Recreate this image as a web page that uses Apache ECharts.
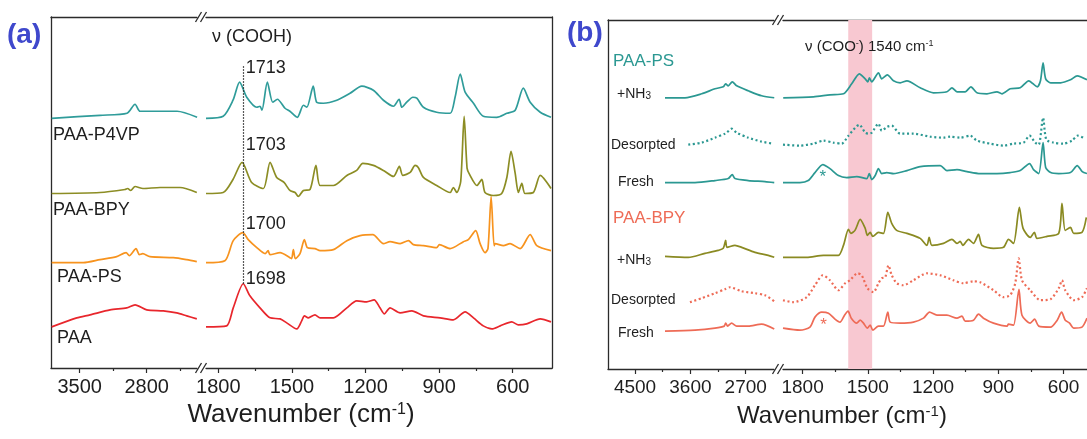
<!DOCTYPE html>
<html>
<head>
<meta charset="utf-8">
<script src="https://cdn.jsdelivr.net/npm/echarts@6/dist/echarts.min.js"></script>
<style>
  html, body { margin: 0; padding: 0; background: #fff; }
  #chart { width: 1087px; height: 439px; }
</style>
</head>
<body>
<div id="chart"></div>
<script>
// ---------- (a) FTIR spectra, stacked with vertical offsets (a.u.) ----------
// Each spectrum is split into a high-wavenumber part and a fingerprint part.
const p4vpHigh = [[3793,2.49],[3288,2.52],[3006,2.54],[2922,2.63],[2870,2.56],[2692,2.56],[2483,2.56],[2274,2.50]];
const p4vpLow = [[1850,2.49],[1780,2.51],[1740,2.67],[1713,2.85],[1684,2.70],[1643,2.60],[1630,2.61],[1622,2.57],[1600,2.85],[1578,2.65],[1559,2.68],[1528,2.59],[1508,2.56],[1478,2.50],[1453,2.62],[1439,2.60],[1413,2.81],[1399,2.65],[1372,2.64],[1317,2.67],[1263,2.74],[1215,2.81],[1168,2.77],[1127,2.67],[1086,2.61],[1063,2.68],[1052,2.60],[1032,2.65],[1007,2.70],[991,2.69],[964,2.60],[910,2.55],[855,2.54],[835,2.70],[814,2.93],[794,2.75],[760,2.64],[720,2.51],[665,2.50],[624,2.54],[590,2.57],[557,2.79],[529,2.65],[488,2.55],[444,2.50]];

const bpyHigh = [[3793,1.74],[3288,1.75],[3027,1.78],[2999,1.79],[2967,1.77],[2922,1.81],[2839,1.79],[2661,1.80],[2452,1.80],[2277,1.75]];
const bpyLow = [[1850,1.74],[1780,1.75],[1740,1.88],[1703,2.05],[1664,1.85],[1616,1.79],[1589,2.05],[1562,1.90],[1532,1.85],[1508,1.77],[1487,1.75],[1474,1.71],[1453,1.77],[1426,1.78],[1402,2.02],[1385,1.82],[1331,1.82],[1276,1.92],[1236,1.97],[1211,2.04],[1168,2.02],[1127,1.97],[1086,1.91],[1062,2.01],[1048,1.92],[1018,1.95],[998,2.02],[985,2.00],[964,1.90],[910,1.82],[855,1.75],[842,1.80],[828,1.75],[812,1.86],[798,2.51],[786,1.99],[776,1.93],[746,1.82],[726,1.88],[713,1.75],[679,1.72],[645,1.74],[624,1.90],[607,2.16],[590,1.94],[577,1.75],[563,1.84],[550,1.74],[516,1.75],[488,1.92],[444,1.79]];

const psHigh = [[3793,1.05],[3462,1.05],[3288,1.08],[3114,1.11],[3016,1.15],[2982,1.12],[2912,1.19],[2877,1.13],[2842,1.14],[2766,1.11],[2522,1.10],[2382,1.08],[2277,1.06]];
const psLow = [[1850,1.05],[1773,1.07],[1739,1.27],[1700,1.35],[1678,1.28],[1643,1.20],[1609,1.14],[1597,1.17],[1589,1.13],[1548,1.15],[1508,1.10],[1501,1.09],[1494,1.18],[1486,1.09],[1467,1.14],[1449,1.28],[1437,1.20],[1406,1.19],[1385,1.17],[1331,1.18],[1276,1.27],[1222,1.32],[1170,1.33],[1127,1.24],[1100,1.26],[1059,1.24],[1025,1.27],[1005,1.23],[964,1.22],[910,1.20],[899,1.23],[855,1.19],[801,1.26],[781,1.28],[751,1.37],[733,1.24],[713,1.15],[701,1.19],[688,1.71],[676,1.22],[672,1.24],[638,1.22],[611,1.24],[570,1.19],[529,1.33],[502,1.22],[444,1.17]];

const paaHigh = [[3793,0.41],[3531,0.50],[3392,0.53],[3183,0.58],[3009,0.60],[2922,0.63],[2800,0.58],[2627,0.57],[2487,0.55],[2382,0.52],[2277,0.49]];
const paaLow = [[1850,0.41],[1766,0.42],[1739,0.60],[1698,0.84],[1671,0.72],[1630,0.60],[1589,0.50],[1548,0.49],[1521,0.45],[1480,0.39],[1460,0.47],[1449,0.52],[1433,0.50],[1406,0.53],[1385,0.50],[1331,0.50],[1276,0.60],[1236,0.67],[1195,0.66],[1165,0.68],[1141,0.60],[1123,0.54],[1100,0.60],[1059,0.55],[1011,0.57],[964,0.52],[896,0.50],[842,0.48],[794,0.56],[760,0.50],[720,0.42],[685,0.39],[651,0.42],[604,0.46],[577,0.43],[543,0.44],[488,0.49],[444,0.46]];

// C=O stretch positions written next to the dotted guide line
const peakLabels = [1713, 1703, 1700, 1698];
const coohGuide = 1698;

// ---------- (b) NH3 exposure series ----------
const psNh3High = [[4013,2.72],[3688,2.72],[3416,2.76],[3200,2.81],[3065,2.83],[3026,2.86],[2984,2.84],[2919,2.88],[2847,2.84],[2659,2.79],[2441,2.74],[2236,2.72]];
const psNh3Low = [[1889,2.72],[1750,2.73],[1674,2.75],[1612,2.76],[1574,2.86],[1539,2.96],[1512,2.91],[1500,2.88],[1493,2.92],[1482,2.88],[1451,2.97],[1436,2.91],[1410,2.95],[1382,2.89],[1351,2.87],[1320,2.89],[1259,2.82],[1198,2.77],[1136,2.78],[1113,2.82],[1090,2.78],[1052,2.78],[1026,2.83],[998,2.77],[952,2.76],[906,2.78],[883,2.76],[845,2.81],[799,2.82],[760,2.89],[721,2.83],[706,2.89],[694,3.07],[682,2.91],[659,2.87],[613,2.87],[568,2.90],[537,2.94],[492,2.90]];

const psDesHigh = [[3634,2.25],[3416,2.27],[3200,2.32],[3038,2.36],[3010,2.37],[2929,2.41],[2847,2.37],[2659,2.32],[2441,2.28],[2252,2.26]];
const psDesLow = [[1890,2.25],[1812,2.24],[1750,2.26],[1704,2.29],[1658,2.27],[1620,2.26],[1589,2.34],[1539,2.45],[1512,2.37],[1497,2.36],[1482,2.37],[1451,2.46],[1436,2.39],[1410,2.43],[1390,2.44],[1351,2.36],[1290,2.36],[1213,2.33],[1152,2.32],[1121,2.33],[1075,2.32],[1029,2.34],[998,2.29],[937,2.26],[876,2.24],[830,2.26],[784,2.27],[756,2.34],[730,2.27],[714,2.25],[694,2.52],[679,2.30],[646,2.27],[600,2.26],[561,2.29],[535,2.34],[500,2.31]];

const psFreshHigh = [[4013,1.87],[3525,1.87],[3200,1.89],[2984,1.91],[2919,1.95],[2875,1.91],[2659,1.89],[2387,1.88],[2236,1.87]];
const psFreshLow = [[1890,1.87],[1812,1.87],[1774,1.89],[1743,1.97],[1707,2.05],[1674,2.01],[1635,1.94],[1597,1.92],[1551,1.93],[1505,1.91],[1493,1.96],[1482,1.90],[1466,1.94],[1451,2.01],[1436,1.96],[1413,1.97],[1382,1.96],[1320,1.99],[1259,2.03],[1167,2.04],[1136,1.99],[1090,2.00],[1044,1.98],[983,1.96],[906,1.96],[845,1.97],[799,1.99],[756,2.06],[738,2.00],[714,1.96],[694,2.27],[682,2.02],[659,1.97],[622,1.96],[568,1.97],[537,2.04],[514,1.98],[492,1.96]];

const bpyNh3High = [[4013,1.13],[3634,1.12],[3363,1.16],[3146,1.19],[3065,1.21],[3026,1.29],[3005,1.22],[2875,1.24],[2766,1.22],[2550,1.17],[2334,1.14],[2236,1.12]];
const bpyNh3Low = [[1890,1.12],[1781,1.12],[1704,1.14],[1635,1.14],[1612,1.24],[1589,1.40],[1578,1.36],[1559,1.39],[1535,1.50],[1512,1.41],[1502,1.34],[1489,1.37],[1477,1.33],[1451,1.37],[1428,1.36],[1408,1.57],[1390,1.46],[1367,1.39],[1320,1.36],[1259,1.31],[1228,1.24],[1218,1.32],[1205,1.24],[1152,1.26],[1113,1.30],[1090,1.26],[1075,1.28],[1063,1.24],[1037,1.30],[1014,1.26],[991,1.35],[975,1.24],[922,1.21],[876,1.22],[853,1.30],[830,1.26],[803,1.62],[786,1.41],[753,1.32],[734,1.37],[722,1.31],[676,1.33],[622,1.36],[607,1.66],[592,1.39],[568,1.42],[553,1.36],[515,1.37],[495,1.52]];

const bpyDesHigh = [[3607,0.67],[3416,0.71],[3200,0.76],[3038,0.80],[2956,0.82],[2766,0.78],[2550,0.76],[2387,0.74],[2236,0.68]];
const bpyDesLow = [[1890,0.69],[1843,0.67],[1781,0.72],[1743,0.84],[1707,0.94],[1674,0.89],[1635,0.79],[1604,0.86],[1582,0.89],[1548,0.96],[1528,0.94],[1502,0.81],[1474,0.77],[1451,0.86],[1436,0.91],[1420,0.92],[1405,1.04],[1390,0.94],[1367,0.86],[1336,0.84],[1290,0.89],[1229,0.96],[1167,0.94],[1106,0.89],[1060,0.86],[1014,0.88],[983,0.87],[922,0.79],[876,0.72],[845,0.74],[822,0.86],[806,1.11],[791,0.89],[753,0.79],[706,0.69],[660,0.70],[622,0.81],[607,0.89],[592,0.79],[553,0.69],[515,0.72],[492,0.81]];

const bpyFreshHigh = [[4013,0.38],[3525,0.39],[3200,0.41],[3049,0.43],[3026,0.46],[2994,0.43],[2929,0.46],[2847,0.43],[2659,0.43],[2441,0.45],[2236,0.40]];
const bpyFreshLow = [[1890,0.41],[1812,0.39],[1766,0.42],[1743,0.52],[1712,0.57],[1681,0.56],[1651,0.50],[1628,0.47],[1607,0.54],[1591,0.58],[1576,0.51],[1551,0.46],[1535,0.49],[1520,0.46],[1502,0.41],[1489,0.44],[1477,0.39],[1451,0.43],[1428,0.43],[1408,0.57],[1397,0.47],[1351,0.46],[1290,0.47],[1244,0.51],[1216,0.57],[1182,0.54],[1136,0.54],[1090,0.51],[1067,0.53],[1052,0.48],[1014,0.49],[991,0.55],[968,0.51],[922,0.46],[860,0.43],[853,0.45],[830,0.44],[805,0.80],[791,0.54],[753,0.46],[733,0.50],[714,0.43],[660,0.42],[629,0.49],[609,0.57],[592,0.49],[572,0.46],[553,0.41],[515,0.42],[492,0.51]];

// carboxylate band highlighted in (b)
const cooBand = [1590, 1480];

// tick values
const ticksAHigh = [3500, 2800], minorAHigh = [3150, 2450];
const ticksBHigh = [4500, 3600, 2700], minorBHigh = [4050, 3150];
const ticksLow = [1800, 1500, 1200, 900, 600], minorLow = [1650, 1350, 1050, 750];

// ---------- layout & style ----------
const FONT = '"Liberation Sans", Arial, Helvetica, sans-serif';
const AX = '#2b2b2b';
const TXT = '#1e1e1e';
const C = {
  teal: '#2f9c9a', olive: '#8c8d24', orange: '#f7931e', red: '#e8262c',
  tealB: '#2b9892', oliveB: '#8a8a22', salmon: '#ee6b56', pink: '#f8c8d1', blue: '#3f48cc'
};

const grids = [
  { left: 51,  top: 17, width: 146, height: 351 },  // (a) high wavenumber
  { left: 206, top: 17, width: 346, height: 351 },  // (a) fingerprint
  { left: 608, top: 20, width: 166, height: 349 },  // (b) high wavenumber
  { left: 783, top: 20, width: 324, height: 349 }   // (b) fingerprint, runs past the right edge
].map(g => Object.assign({ outerBoundsMode: 'none', containLabel: false }, g));
const ranges = [[2275, 3800], [440, 1850], [2240, 4940], [400, 1890]];
const majors = [ticksAHigh, ticksLow, ticksBHigh, ticksLow];
const minors = [minorAHigh, minorLow, minorBHigh, minorLow];
const tickFont = [20, 20, 19, 19];

const xAxis = [], yAxis = [];
grids.forEach((g, gi) => {
  const common = { type: 'value', gridIndex: gi, min: ranges[gi][0], max: ranges[gi][1], inverse: true,
                   splitLine: { show: false } };
  xAxis.push({ ...common, position: 'bottom',
    axisLine: { show: true, onZero: false, lineStyle: { color: AX, width: 1.3 } },
    axisTick: { show: true, customValues: majors[gi], length: 5, lineStyle: { color: AX, width: 1.2 } },
    axisLabel: { show: true, customValues: majors[gi], fontSize: tickFont[gi], color: TXT, margin: 9,
                 fontFamily: FONT, formatter: v => String(v) } });
  xAxis.push({ ...common, position: 'bottom',
    axisLine: { show: false, onZero: false },
    axisTick: { show: true, customValues: minors[gi], length: 3, lineStyle: { color: AX, width: 1.2 } },
    axisLabel: { show: false } });
  xAxis.push({ ...common, position: 'top',
    axisLine: { show: true, onZero: false, lineStyle: { color: AX, width: 1.3 } },
    axisTick: { show: false }, axisLabel: { show: false } });
  yAxis.push({ type: 'value', gridIndex: gi, min: 0, max: 3.5,
    position: gi % 2 === 0 ? 'left' : 'right',
    axisLine: { show: gi !== 3, onZero: false, lineStyle: { color: AX, width: 1.3 } },
    axisTick: { show: false }, axisLabel: { show: false }, splitLine: { show: false } });
});

function spectrum(name, data, gi, color, dotted, extra) {
  return Object.assign({
    type: 'line', name, data, xAxisIndex: gi * 3, yAxisIndex: gi,
    showSymbol: false, smooth: 0.25, z: 3,
    lineStyle: dotted ? { color, width: 2.2, type: [2, 2.6] } : { color, width: 1.7 },
    itemStyle: { color }, silent: true
  }, extra || {});
}

// labels of the C=O peaks, stacked next to the dotted guide
const peakLevels = [2.99, 2.22, 1.44, 0.89];
const peakMarks = {
  symbol: 'circle', symbolSize: 1, itemStyle: { color: 'rgba(0,0,0,0)' }, silent: true,
  label: { show: true, position: 'right', distance: 2, formatter: '{c}', fontSize: 18, color: TXT, fontFamily: FONT },
  data: peakLabels.map((p, i) => ({ coord: [coohGuide, peakLevels[i]], value: p }))
};
const guideLine = {
  symbol: ['none', 'none'], silent: true, label: { show: false },
  lineStyle: { color: '#222', width: 1.2, type: [1.5, 1.5] },
  data: [[{ coord: [coohGuide, 3.01] }, { coord: [coohGuide, 0.84] }]]
};
const star = (coord, color) => ({
  symbol: 'circle', symbolSize: 1, itemStyle: { color: 'rgba(0,0,0,0)' }, silent: true,
  label: { show: true, position: 'inside', formatter: '*', fontSize: 17, color, fontFamily: FONT },
  data: [{ coord }]
});

const series = [
  spectrum('PAA-P4VP', p4vpHigh, 0, C.teal), spectrum('PAA-P4VP', p4vpLow, 1, C.teal),
  spectrum('PAA-BPY', bpyHigh, 0, C.olive),  spectrum('PAA-BPY', bpyLow, 1, C.olive),
  spectrum('PAA-PS', psHigh, 0, C.orange),   spectrum('PAA-PS', psLow, 1, C.orange),
  spectrum('PAA', paaHigh, 0, C.red),
  spectrum('PAA', paaLow, 1, C.red, false, { markLine: guideLine, markPoint: peakMarks }),

  // highlighted carboxylate band, drawn beneath the spectra
  { type: 'line', xAxisIndex: 9, yAxisIndex: 3, data: [], z: 1, silent: true,
    markArea: { silent: true, itemStyle: { color: C.pink }, data: [[{ xAxis: cooBand[0] }, { xAxis: cooBand[1] }]] } },

  spectrum('PAA-PS +NH3', psNh3High, 2, C.tealB),  spectrum('PAA-PS +NH3', psNh3Low, 3, C.tealB),
  spectrum('PAA-PS Desorpted', psDesHigh, 2, C.tealB, true), spectrum('PAA-PS Desorpted', psDesLow, 3, C.tealB, true),
  spectrum('PAA-PS Fresh', psFreshHigh, 2, C.tealB),
  spectrum('PAA-PS Fresh', psFreshLow, 3, C.tealB, false, { markPoint: star([1707, 1.92], C.tealB) }),
  spectrum('PAA-BPY +NH3', bpyNh3High, 2, C.oliveB), spectrum('PAA-BPY +NH3', bpyNh3Low, 3, C.oliveB),
  spectrum('PAA-BPY Desorpted', bpyDesHigh, 2, C.salmon, true), spectrum('PAA-BPY Desorpted', bpyDesLow, 3, C.salmon, true),
  spectrum('PAA-BPY Fresh', bpyFreshHigh, 2, C.salmon),
  spectrum('PAA-BPY Fresh', bpyFreshLow, 3, C.salmon, false, { markPoint: star([1704, 0.44], C.salmon) })
];

// ---------- text & axis-break marks ----------
function txt(x, y, text, font, color, opts) {
  return { type: 'text', x, y, silent: true, z: 10,
    style: Object.assign({ text, fill: color || TXT, font, verticalAlign: 'middle', align: 'left' }, opts || {}) };
}
const f = (size, bold) => `${bold ? 'bold ' : ''}${size}px ${FONT}`;
const supSub = (size) => ({
  sup: { fontSize: size, fontFamily: FONT, fill: TXT, verticalAlign: 'top', lineHeight: 1 },
  sub: { fontSize: size, fontFamily: FONT, fill: TXT, verticalAlign: 'bottom' }
});

function breakMarks(gA, gB) {
  const cx = (gA.left + gA.width + gB.left) / 2;
  const out = [];
  [gA.top, gA.top + gA.height].forEach(y => {
    [-3, 2].forEach(dx => out.push({ type: 'line', silent: true, z: 10,
      shape: { x1: cx + dx - 3, y1: y + 5, x2: cx + dx + 3, y2: y - 5 },
      style: { stroke: AX, lineWidth: 1.3 } }));
  });
  return out;
}

const graphic = [
  txt(7, 35, '(a)', f(28, true), C.blue),
  txt(567, 33, '(b)', f(28, true), C.blue),

  txt(212, 37, 'ν (COOH)', f(18)),
  txt(53, 135, 'PAA-P4VP', f(18)), txt(53, 210, 'PAA-BPY', f(18)),
  txt(57, 277, 'PAA-PS', f(18)),   txt(57, 338, 'PAA', f(18)),

  txt(805, 47, 'ν (COO{sup|-}) 1540 cm{sup|-1}', f(15), TXT, { rich: supSub(9) }),
  txt(613, 61, 'PAA-PS', f(17), C.tealB), txt(613, 218, 'PAA-BPY', f(17), C.salmon),
  txt(617, 94, '+NH{sub|3}', f(14), TXT, { rich: supSub(10) }),
  txt(611, 145, 'Desorpted', f(14)), txt(618, 182, 'Fresh', f(14)),
  txt(617, 260, '+NH{sub|3}', f(14), TXT, { rich: supSub(10) }),
  txt(611, 300, 'Desorpted', f(14)), txt(618, 333, 'Fresh', f(14)),

  txt(301, 415, 'Wavenumber (cm{sup|-1})', f(26), TXT, { align: 'center', rich: supSub(16) }),
  txt(842, 416, 'Wavenumber (cm{sup|-1})', f(24), TXT, { align: 'center', rich: supSub(15) }),

  ...breakMarks(grids[0], grids[1]),
  ...breakMarks(grids[2], grids[3])
];

const chart = echarts.init(document.getElementById('chart'), null, { renderer: 'canvas' });
chart.setOption({
  animation: false,
  backgroundColor: '#ffffff',
  grid: grids,
  xAxis, yAxis, series, graphic
});
</script>
</body>
</html>
